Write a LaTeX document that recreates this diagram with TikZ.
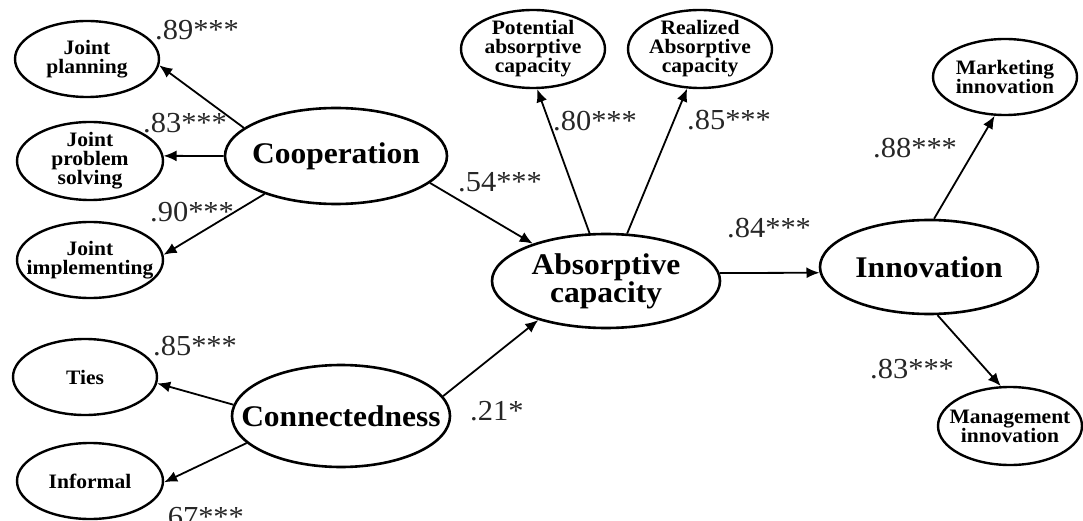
\documentclass[tikz,border=0pt]{standalone}
\usepackage{fontspec}
\setmainfont[FakeStretch=1.05]{Liberation Serif}
\usetikzlibrary{shapes.geometric,arrows.meta}

% The negative inner sep lets the minimum width/height alone fix each ellipse.
\tikzset{
  construct/.style={ellipse, draw, line width=2.6pt, inner sep=-80pt, align=center,
    font=\fontsize{30}{24}\selectfont\bfseries},
  indicator/.style={ellipse, draw, line width=2.4pt, inner sep=-80pt, align=center,
    font=\fontsize{20.5}{19}\selectfont\bfseries},
  path/.style={line width=1.8pt, -{Latex[length=13pt,width=11pt]}},
  coef/.style={anchor=base west, inner sep=0pt, text=black!85,
    font=\fontsize{29}{29}\selectfont},
}

\begin{document}
\begin{tikzpicture}[x=1pt, y=-1pt]
  \useasboundingbox (0,0) rectangle (1083,521);

  % latent constructs
  \node[construct, minimum width=222pt, minimum height=96pt] (coop) at (336,156) {Cooperation};
  \node[construct, minimum width=218pt, minimum height=102pt] (conn) at (341,416) {Connectedness};
  \node[construct, minimum width=228pt, minimum height=94pt] (absc) at (606,281) {Absorptive\\capacity};
  \node[construct, minimum width=218pt, minimum height=94pt] (innov) at (929,267) {Innovation};

  % indicators of cooperation
  \node[indicator, minimum width=144pt, minimum height=76pt] (jplan) at (87,59) {Joint\\planning};
  \node[indicator, minimum width=146pt, minimum height=78pt] (jprob) at (90,161) {Joint\\problem\\solving};
  \node[indicator, minimum width=146pt, minimum height=76pt] (jimpl) at (90,260) {Joint\\implementing};

  % indicators of connectedness
  \node[indicator, minimum width=144pt, minimum height=76pt] (ties) at (85,377) {Ties};
  \node[indicator, minimum width=146pt, minimum height=76pt] (infml) at (90,481) {Informal};

  % indicators of absorptive capacity
  \node[indicator, minimum width=144pt, minimum height=78pt] (pacap) at (533,49) {Potential\\absorptive\\capacity};
  \node[indicator, minimum width=144pt, minimum height=78pt] (racap) at (700,49) {Realized\\Absorptive\\capacity};

  % indicators of innovation
  \node[indicator, minimum width=144pt, minimum height=76pt] (mkt) at (1005,77) {Marketing\\innovation};
  \node[indicator, minimum width=144pt, minimum height=78pt] (mgt) at (1010,426) {Management\\innovation};

  % paths
  \draw[path] (coop.163) -- (jplan.-5);
  \draw[path] (coop.180) -- (jprob.4);
  \draw[path] (coop.208) -- (jimpl.4);
  \draw[path] (coop.-16) -- (absc.153);
  \draw[path] (conn.174) -- (ties.-5);
  \draw[path] (conn.-164) -- (infml.-1);
  \draw[path] (conn.11) -- (absc.-150);
  \draw[path] (absc.109) -- (pacap.-84);
  \draw[path] (absc.66) -- (racap.-108);
  \draw[path] (absc.4.6) -- (innov.-177.4);
  \draw[path] (innov.84) -- (mkt.-105);
  \draw[path] (innov.-80) -- (mgt.103);

  % standardized coefficients
  \node[coef] (c1) at (155,40) {.89***};
  \node[coef] (c2) at (143,133) {.83***};
  \node[coef] (c3) at (150,222) {.90***};
  \node[coef] (c4) at (153,355) {.85***};
  \node[coef] (c5) at (160,526) {.67***};
  \node[coef] (c6) at (458,192) {.54***};
  \node[coef] (c7) at (470,420) {.21*};
  \node[coef] (c8) at (553,131) {.80***};
  \node[coef] (c9) at (687,130) {.85***};
  \node[coef] (c10) at (727,237) {.84***};
  \node[coef] (c11) at (873,158) {.88***};
  \node[coef] (c12) at (870,378) {.83***};
\end{tikzpicture}
\end{document}
